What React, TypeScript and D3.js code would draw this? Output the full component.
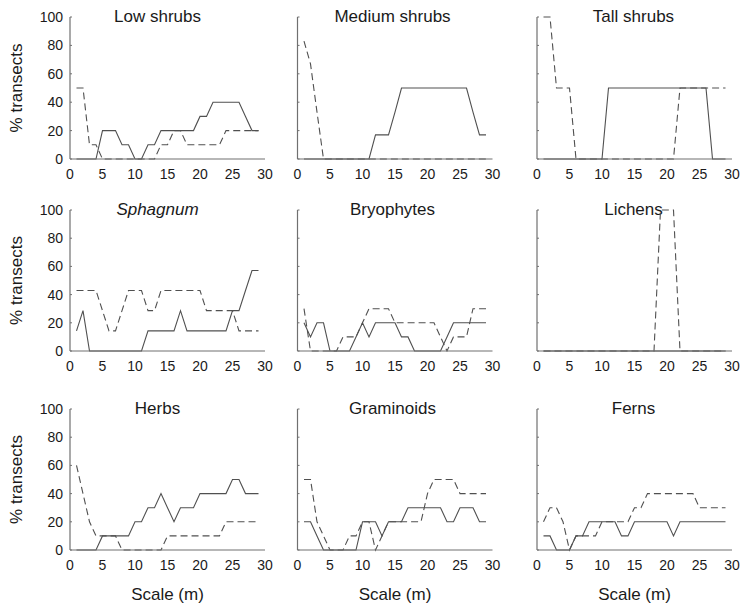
import React from "react";
import * as d3 from "d3";

// Scale (m) at which each value was computed
const scaleM = [1, 2, 3, 4, 5, 6, 7, 8, 9, 10, 11, 12, 13, 14, 15, 16, 17, 18, 19, 20, 21, 22, 23, 24, 25, 26, 27, 28, 29];

const xTicks = [0, 5, 10, 15, 20, 25, 30];
const yTicks = [0, 20, 40, 60, 80, 100];

const lowShrubsSolid = [0, 0, 0, 0, 20, 20, 20, 10, 10, 0, 0, 10, 10, 20, 20, 20, 20, 20, 20, 30, 30, 40, 40, 40, 40, 40, 30, 20, 20];
const lowShrubsDashed = [50, 50, 10, 10, 0, 0, 0, 0, 0, 0, 0, 0, 0, 10, 10, 20, 20, 10, 10, 10, 10, 10, 10, 20, 20, 20, 20, 20, 20];

const mediumShrubsSolid = [0, 0, 0, 0, 0, 0, 0, 0, 0, 0, 0, 17, 17, 17, 33, 50, 50, 50, 50, 50, 50, 50, 50, 50, 50, 50, 33, 17, 17];
const mediumShrubsDashed = [83, 67, 33, 0, 0, 0, 0, 0, 0, 0, 0, 0, 0, 0, 0, 0, 0, 0, 0, 0, 0, 0, 0, 0, 0, 0, 0, 0, 0];

const tallShrubsSolid = [0, 0, 0, 0, 0, 0, 0, 0, 0, 0, 50, 50, 50, 50, 50, 50, 50, 50, 50, 50, 50, 50, 50, 50, 50, 50, 0, 0, 0];
const tallShrubsDashed = [100, 100, 50, 50, 50, 0, 0, 0, 0, 0, 0, 0, 0, 0, 0, 0, 0, 0, 0, 0, 0, 50, 50, 50, 50, 50, 50, 50, 50];

const sphagnumSolid = [14.3, 28.6, 0, 0, 0, 0, 0, 0, 0, 0, 0, 14.3, 14.3, 14.3, 14.3, 14.3, 28.6, 14.3, 14.3, 14.3, 14.3, 14.3, 14.3, 14.3, 28.6, 28.6, 42.9, 57.1, 57.1];
const sphagnumDashed = [42.9, 42.9, 42.9, 42.9, 28.6, 14.3, 14.3, 28.6, 42.9, 42.9, 42.9, 28.6, 28.6, 42.9, 42.9, 42.9, 42.9, 42.9, 42.9, 42.9, 28.6, 28.6, 28.6, 28.6, 28.6, 14.3, 14.3, 14.3, 14.3];

const bryophytesSolid = [20, 10, 20, 20, 0, 0, 0, 0, 10, 20, 10, 20, 20, 20, 20, 10, 10, 0, 0, 0, 0, 0, 10, 20, 20, 20, 20, 20, 20];
const bryophytesDashed = [30, 0, 0, 0, 0, 0, 10, 10, 10, 20, 30, 30, 30, 30, 20, 20, 20, 20, 20, 20, 20, 10, 0, 10, 10, 10, 30, 30, 30];

const lichensSolid = [0, 0, 0, 0, 0, 0, 0, 0, 0, 0, 0, 0, 0, 0, 0, 0, 0, 0, 0, 0, 0, 0, 0, 0, 0, 0, 0, 0, 0];
const lichensDashed = [0, 0, 0, 0, 0, 0, 0, 0, 0, 0, 0, 0, 0, 0, 0, 0, 0, 0, 100, 100, 100, 0, 0, 0, 0, 0, 0, 0, 0];

const herbsSolid = [0, 0, 0, 0, 10, 10, 10, 10, 10, 20, 20, 30, 30, 40, 30, 20, 30, 30, 30, 40, 40, 40, 40, 40, 50, 50, 40, 40, 40];
const herbsDashed = [60, 40, 20, 10, 10, 10, 10, 0, 0, 0, 0, 0, 0, 0, 10, 10, 10, 10, 10, 10, 10, 10, 10, 20, 20, 20, 20, 20, 20];

const graminoidsSolid = [20, 20, 10, 0, 0, 0, 0, 0, 0, 20, 20, 20, 10, 20, 20, 20, 30, 30, 30, 30, 30, 30, 20, 20, 30, 30, 30, 20, 20];
const graminoidsDashed = [50, 50, 20, 10, 0, 0, 0, 10, 10, 20, 20, 0, 10, 20, 20, 20, 20, 20, 20, 40, 50, 50, 50, 50, 40, 40, 40, 40, 40];

const fernsSolid = [10, 10, 0, 0, 0, 10, 10, 20, 20, 20, 20, 20, 10, 10, 20, 20, 20, 20, 20, 20, 10, 20, 20, 20, 20, 20, 20, 20, 20];
const fernsDashed = [20, 30, 30, 20, 0, 10, 10, 10, 10, 20, 20, 20, 20, 20, 30, 30, 40, 40, 40, 40, 40, 40, 40, 40, 30, 30, 30, 30, 30];

const titles = ["Low shrubs", "Medium shrubs", "Tall shrubs", "Sphagnum", "Bryophytes", "Lichens", "Herbs", "Graminoids", "Ferns"];
const solids = [lowShrubsSolid, mediumShrubsSolid, tallShrubsSolid, sphagnumSolid, bryophytesSolid, lichensSolid, herbsSolid, graminoidsSolid, fernsSolid];
const dasheds = [lowShrubsDashed, mediumShrubsDashed, tallShrubsDashed, sphagnumDashed, bryophytesDashed, lichensDashed, herbsDashed, graminoidsDashed, fernsDashed];

const W = 743;
const H = 607;
const colX = [70, 297.5, 537];
const titleCx = [157.5, 392.5, 633.5];
const plotW = 195;
const rowTop = [17, 210, 409];
const rowBot = [159, 351, 550];

const FONT = "'Liberation Sans', Arial, sans-serif";
const LINE = "#505050";
const AXIS = "#707070";
const TEXT = "#1a1a1a";

function Panel({ i }: { i: number }) {
  const col = i % 3;
  const row = Math.floor(i / 3);
  const x = d3.scaleLinear().domain([0, 30]).range([colX[col], colX[col] + plotW]);
  const y = d3.scaleLinear().domain([0, 100]).range([rowBot[row], rowTop[row]]);
  const line = d3
    .line<number>()
    .x((_, k) => x(scaleM[k]))
    .y((d) => y(d));
  const title = titles[i];
  return (
    <g>
      {col === 0 &&
        yTicks.map((t) => (
          <text
            key={"yl" + t}
            x={x(0) - 7}
            y={y(t)}
            dy="0.35em"
            textAnchor="end"
            fontSize={14}
            fontFamily={FONT}
            fill={TEXT}
          >
            {t}
          </text>
        ))}
      {xTicks.map((t) => (
        <text
          key={"xl" + t}
          x={x(t)}
          y={y(0) + 20}
          textAnchor="middle"
          fontSize={14}
          fontFamily={FONT}
          fill={TEXT}
        >
          {t}
        </text>
      ))}
      <text
        x={titleCx[col]}
        y={y(100) + 5}
        textAnchor="middle"
        fontSize={17}
        fontFamily={FONT}
        fontStyle={title === "Sphagnum" ? "italic" : "normal"}
        fill={TEXT}
      >
        {title}
      </text>
      <path d={line(solids[i]) || ""} fill="none" stroke={LINE} strokeWidth={1.1} />
      <path d={line(dasheds[i]) || ""} fill="none" stroke={LINE} strokeWidth={1.1} strokeDasharray="7,4" />
      {/* axes drawn over the lines so zero segments merge with the axis */}
      <line x1={x(0)} x2={x(0)} y1={y(0)} y2={y(100)} stroke={AXIS} strokeWidth={1.2} />
      <line x1={x(0)} x2={x(30)} y1={y(0)} y2={y(0)} stroke={AXIS} strokeWidth={1.2} />
      {yTicks.map((t) => (
        <line key={"yt" + t} x1={x(0)} x2={x(0) + 2} y1={y(t)} y2={y(t)} stroke={AXIS} strokeWidth={1} />
      ))}
      {col === 0 && (
        <text
          transform={`translate(22,${(rowTop[row] + rowBot[row]) / 2}) rotate(-90)`}
          textAnchor="middle"
          fontSize={17}
          fontFamily={FONT}
          fill={TEXT}
        >
          % transects
        </text>
      )}
      {row === 2 && (
        <text
          x={(x(0) + x(30)) / 2}
          y={600}
          textAnchor="middle"
          fontSize={17}
          fontFamily={FONT}
          fill={TEXT}
        >
          Scale (m)
        </text>
      )}
    </g>
  );
}

export default function App() {
  return (
    <svg
      width={W}
      height={H}
      viewBox={`0 0 ${W} ${H}`}
      style={{ position: "absolute", left: 0, top: 0, background: "#fff" }}
    >
      <rect x={0} y={0} width={W} height={H} fill="#fff" />
      {titles.map((_, i) => (
        <Panel key={i} i={i} />
      ))}
    </svg>
  );
}
